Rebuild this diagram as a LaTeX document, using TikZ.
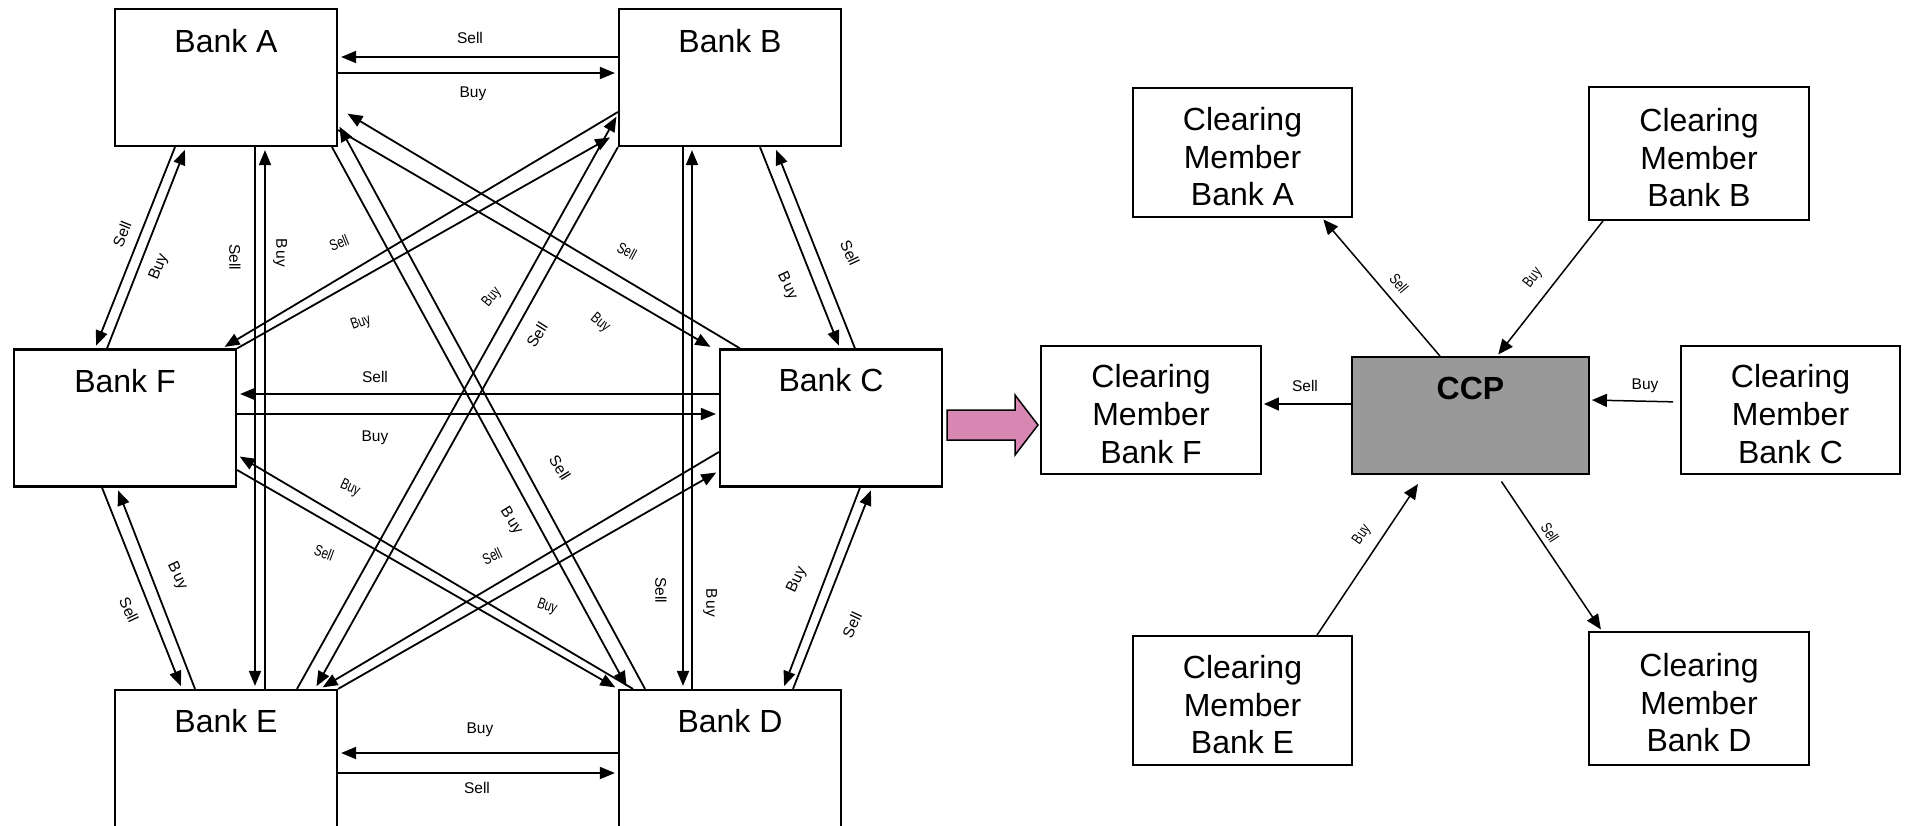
\documentclass[tikz,border=0pt]{standalone}
\usepackage{fontspec}
\setmainfont{Liberation Sans}
\usepackage{graphicx}
\usetikzlibrary{arrows.meta}
\definecolor{pinkarrow}{RGB}{216,134,178}
\definecolor{ccpgrey}{RGB}{153,153,153}
\newcommand{\cond}[1]{\scalebox{0.75}[1]{#1}}
\newcommand{\topstrut}{\rule{0pt}{31.5pt}}
\begin{document}
\begin{tikzpicture}[x=1pt,y=-1pt,
  bankbox/.style={draw, line width=2.2pt, minimum width=222pt, minimum height=137pt, inner sep=0pt},
  banktxt/.style={font=\fontsize{32}{38}\selectfont, inner sep=0pt},
  cmbox/.style={draw, line width=1.8pt, inner sep=0pt, align=center, font=\fontsize{32}{37.8}\selectfont},
  linkarrow/.style={line width=1.8pt, -{Triangle[length=15pt,width=12pt]}, shorten >=3pt},
  rlinkarrow/.style={line width=1.5pt, -{Triangle[length=15pt,width=13pt]}, shorten >=2pt},
  lbl/.style={font=\fontsize{15.5}{18}\selectfont, inner sep=0pt},
]
\useasboundingbox (0,0) rectangle (1910,825);

% ---------- left network ----------
\node[bankbox, label={[banktxt,anchor=base,yshift=-44.5pt]north:Bank A}] (A) at (226,77.5) {};
\node[bankbox, label={[banktxt,anchor=base,yshift=-44.5pt]north:Bank B}] (B) at (730,77.5) {};
\node[bankbox, label={[banktxt,anchor=base,yshift=-44pt]north:Bank F}] (F) at (125,418) {};
\node[bankbox, label={[banktxt,anchor=base,yshift=-43.5pt]north:Bank C}] (C) at (831,418) {};
\node[bankbox, label={[banktxt,anchor=base,yshift=-44pt]north:Bank E}] (E) at (226,758.5) {};
\node[bankbox, label={[banktxt,anchor=base,yshift=-44pt]north:Bank D}] (D) at (730,758.5) {};

% A-B
\draw[linkarrow] (B.west |- 0,57) -- (A.east |- 0,57);
\draw[linkarrow] (A.east |- 0,73) -- (B.west |- 0,73);
% A-F
\draw[linkarrow] (A.south -| 175,0) -- (F.north -| 95,0);
\draw[linkarrow] (F.north -| 107,0) -- (A.south -| 186,0);
% A-E
\draw[linkarrow] (A.south -| 255,0) -- (E.north -| 255,0);
\draw[linkarrow] (E.north -| 265,0) -- (A.south -| 265,0);
% A-C
\draw[linkarrow, shorten >=11pt] (C.north -| 740,0) -- (A.east |- 0,108);
\draw[linkarrow] (A.east |- 0,130) -- (C.north -| 713,0);
% A-D
\draw[linkarrow] (A.south -| 332,0) -- (D.north -| 628,0);
\draw[linkarrow] (D.north -| 645,0) -- (A.east |- 0,124);
% B-F
\draw[linkarrow] (B.west |- 0,112) -- (F.north -| 222,0);
\draw[linkarrow, shorten >=9pt] (F.north east) -- (B.west |- 0,133);
% B-E
\draw[linkarrow] (E.north -| 297,0) -- (B.west |- 0,114);
\draw[linkarrow] (B.south west) -- (E.north -| 315,0);
% B-D
\draw[linkarrow] (B.south -| 683,0) -- (D.north -| 683,0);
\draw[linkarrow] (D.north -| 692,0) -- (B.south -| 692,0);
% B-C
\draw[linkarrow] (B.south -| 760,0) -- (C.north -| 840,0);
\draw[linkarrow] (C.north -| 855,0) -- (B.south -| 775,0);
% C-F
\draw[linkarrow] (C.west |- 0,394) -- (F.east |- 0,394);
\draw[linkarrow] (F.east |- 0,414) -- (C.west |- 0,414);
% C-E
\draw[linkarrow] (C.west |- 0,452) -- (E.north -| 320,0);
\draw[linkarrow] (E.north east) -- (C.west |- 0,471);
% C-D
\draw[linkarrow] (C.south -| 860,0) -- (D.north -| 783,0);
\draw[linkarrow] (D.north -| 793,0) -- (C.south -| 872,0);
% D-E
\draw[linkarrow] (D.west |- 0,753) -- (E.east |- 0,753);
\draw[linkarrow] (E.east |- 0,773) -- (D.west |- 0,773);
% D-F
\draw[linkarrow] (D.north -| 633,0) -- (F.east |- 0,455);
\draw[linkarrow] (F.east |- 0,470) -- (D.north west);
% E-F
\draw[linkarrow] (F.south -| 102,0) -- (E.north -| 182,0);
\draw[linkarrow] (E.north -| 195,0) -- (F.south -| 117,0);

% labels, left
\node[lbl] (l1) at (470,38) {Sell};
\node[lbl] (l2) at (473,94) {Buy};
\node[lbl, rotate=68] (l3) at (122,234) {Sell};
\node[lbl, rotate=68] (l4) at (159,267) {Buy};
\node[lbl, rotate=-90] (l5) at (235,257) {Sell};
\node[lbl, rotate=-90] (l6) at (280,253) {B\kern1.5pt uy};
\node[lbl, rotate=-28] (l7) at (627,251) {\cond{Sell}};
\node[lbl, rotate=-40] (l8) at (600,323) {\cond{Buy}};
\node[lbl, rotate=22] (l9) at (339,243) {\cond{Sell}};
\node[lbl, rotate=20] (l10) at (361,323) {\cond{Buy}};
\node[lbl, rotate=50] (l11) at (492,297) {\cond{Buy}};
\node[lbl, rotate=58] (l12) at (537,335) {Sell};
\node[lbl, rotate=-90] (l13) at (661,590) {Sell};
\node[lbl, rotate=-90] (l14) at (710,603) {B\kern2pt uy};
\node[lbl, rotate=-65] (l15) at (787,286) {B\kern2pt uy};
\node[lbl, rotate=-65] (l16) at (850,253) {Sell};
\node[lbl] (l17) at (375,377) {Sell};
\node[lbl] (l18) at (375,438) {Buy};
\node[lbl, rotate=-25] (l19) at (350,488) {\cond{Buy}};
\node[lbl, rotate=-20] (l20) at (324,553) {\cond{Sell}};
\node[lbl, rotate=25] (l21) at (492,556) {\cond{Sell}};
\node[lbl, rotate=-20] (l22) at (547,607) {\cond{Buy}};
\node[lbl, rotate=-58] (l23) at (560,468) {Sell};
\node[lbl, rotate=-58] (l24) at (511,521) {B\kern2pt uy};
\node[lbl, rotate=65] (l25) at (797,580) {Buy};
\node[lbl, rotate=65] (l26) at (852,625) {Sell};
\node[lbl] (l27) at (480,730) {Buy};
\node[lbl] (l28) at (477,788) {Sell};
\node[lbl, rotate=-65] (l29) at (129,610) {Sell};
\node[lbl, rotate=-65] (l30) at (177,576) {B\kern2pt uy};

% ---------- block arrow ----------
\draw[line width=1.5pt, fill=pinkarrow, line join=miter]
  (947,410) -- (1015,410) -- (1015,395) -- (1038,425) -- (1015,455) -- (1015,440) -- (947,440) -- cycle;

% ---------- right: CCP ----------
\node[cmbox, minimum width=219pt, minimum height=129pt] (CMA) at (1242.5,152.5) {\topstrut Clearing\\Member\\Bank A};
\node[cmbox, minimum width=220pt, minimum height=133pt] (CMB) at (1699,153.5) {\topstrut Clearing\\Member\\Bank B};
\node[cmbox, minimum width=220pt, minimum height=128pt] (CMF) at (1151,410) {\topstrut Clearing\\Member\\Bank F};
\node[cmbox, minimum width=219pt, minimum height=128pt] (CMC) at (1790.5,410) {\topstrut Clearing\\Member\\Bank C};
\node[cmbox, minimum width=219pt, minimum height=129pt] (CME) at (1242.5,700.5) {\topstrut Clearing\\Member\\Bank E};
\node[cmbox, minimum width=220pt, minimum height=133pt] (CMD) at (1699,698.5) {\topstrut Clearing\\Member\\Bank D};
\node[draw, line width=1.8pt, fill=ccpgrey, minimum width=237pt, minimum height=117pt, inner sep=0pt,
  label={[font=\fontsize{32}{38}\selectfont\bfseries, anchor=base, yshift=-43pt, inner sep=0pt]north:CCP}] (CCP) at (1470.5,415.5) {};

\draw[rlinkarrow] (CCP.north -| 1440,0) -- (CMA.south -| 1322,0);
\draw[rlinkarrow] (CMB.south -| 1603,0) -- (CCP.north -| 1497,0);
\draw[rlinkarrow] (CCP.west |- 0,404) -- (CMF.east |- 0,404);
\draw[rlinkarrow, shorten <=7pt] (CMC.west |- 0,402) -- (CCP.east |- 0,400);
\draw[rlinkarrow, shorten >=11pt] (CME.north -| 1317,0) -- (CCP.south -| 1424,0);
\draw[rlinkarrow, shorten <=8pt] (CCP.south -| 1497,0) -- (CMD.north -| 1602,0);

\node[lbl, rotate=-50] (r1) at (1399,283) {\cond{Sell}};
\node[lbl, rotate=52] (r2) at (1533,278) {\cond{Buy}};
\node[lbl] (r3) at (1305,386) {Sell};
\node[lbl] (r4) at (1645,386) {Buy};
\node[lbl, rotate=55] (r5) at (1362,535) {\cond{Buy}};
\node[lbl, rotate=-57] (r6) at (1550,533) {\cond{Sell}};
\end{tikzpicture}
\end{document}
